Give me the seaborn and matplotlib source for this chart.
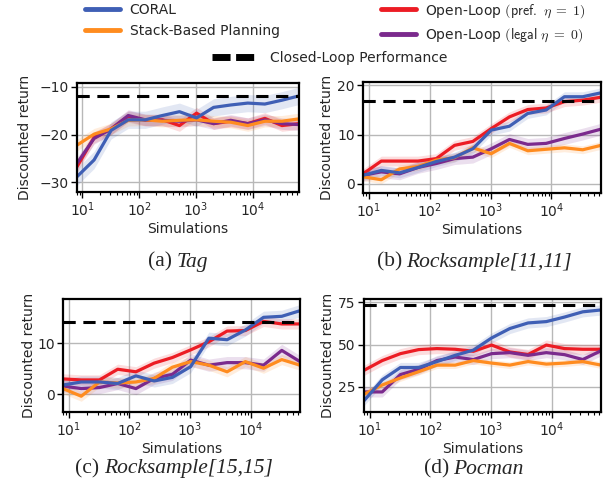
import numpy as np
import pandas as pd
import matplotlib
matplotlib.use("Agg")
import matplotlib.pyplot as plt
from matplotlib.lines import Line2D
import seaborn as sns

# simulation budgets (powers of two)
sims = [8, 16, 32, 64, 128, 256, 512, 1024, 2048, 4096, 8192, 16384, 32768, 65536]

methods = ["Open-Loop (pref.)", "Open-Loop (legal)", "Stack-Based Planning", "CORAL"]

# (a) Tag
tag_coral = [-28.8, -25.3, -19.1, -16.9, -16.9, -16.0, -15.2, -16.5, -14.3, -13.8, -13.4, -13.6, -12.8, -11.9]
tag_stack = [-22.2, -19.9, -18.8, -17.0, -16.9, -17.2, -17.0, -16.9, -17.2, -17.4, -18.1, -17.2, -17.2, -16.7]
tag_pref = [-26.7, -20.6, -18.8, -16.2, -17.0, -16.9, -18.1, -15.5, -17.7, -17.2, -17.7, -16.6, -18.1, -17.7]
tag_legal = [-26.0, -20.8, -18.8, -16.0, -16.9, -17.0, -17.2, -16.9, -17.7, -17.0, -17.7, -16.9, -17.7, -17.9]
tag_closed = -12.0
tag_band = [1.2, 1.2, 1.2, 1.8]

# (b) Rocksample[11,11]
rs11_coral = [1.7, 2.7, 2.2, 3.3, 4.5, 5.4, 7.1, 10.9, 11.7, 14.3, 15.0, 17.7, 17.7, 18.5]
rs11_stack = [1.4, 0.8, 3.0, 3.5, 4.8, 5.3, 7.3, 6.1, 8.2, 6.7, 7.0, 7.3, 6.9, 7.8]
rs11_pref = [2.0, 4.6, 4.6, 4.6, 5.1, 7.8, 8.6, 11.2, 13.6, 15.1, 15.4, 16.7, 17.0, 17.6]
rs11_legal = [1.7, 2.4, 2.0, 3.3, 4.1, 5.1, 5.4, 7.1, 9.0, 8.0, 8.2, 9.2, 10.1, 11.1]
rs11_closed = 16.9
rs11_band = [1.0, 1.2, 0.8, 1.0]

# (c) Rocksample[15,15]
rs15_coral = [1.8, 2.4, 2.4, 2.1, 3.6, 2.6, 3.3, 5.4, 11.0, 10.7, 12.6, 15.1, 15.3, 16.4]
rs15_stack = [1.1, -0.4, 2.4, 2.2, 2.4, 3.1, 5.3, 6.4, 5.7, 4.4, 6.4, 5.1, 6.8, 5.7]
rs15_pref = [3.0, 2.8, 2.8, 4.9, 4.4, 6.1, 7.2, 8.7, 10.3, 12.4, 12.5, 14.3, 13.8, 13.8]
rs15_legal = [1.6, 1.1, 1.3, 2.1, 1.1, 3.1, 3.9, 6.7, 5.7, 6.2, 6.2, 5.7, 8.6, 6.4]
rs15_closed = 14.1
rs15_band = [1.0, 1.2, 1.0, 1.2]

# (d) Pocman
poc_coral = [16.7, 29.1, 36.4, 36.4, 39.9, 43.6, 46.7, 53.9, 59.5, 62.8, 63.6, 66.3, 69.4, 70.5]
poc_stack = [20.5, 26.0, 30.2, 33.9, 37.8, 37.8, 40.5, 39.0, 37.8, 39.9, 38.4, 39.0, 39.9, 37.8]
poc_pref = [34.7, 40.5, 44.6, 47.0, 47.6, 47.2, 46.0, 49.7, 45.6, 44.1, 49.7, 47.6, 47.2, 47.2]
poc_legal = [21.9, 21.9, 32.2, 35.3, 40.5, 42.6, 41.1, 44.6, 45.2, 43.6, 45.2, 44.0, 41.1, 46.3]
poc_closed = 73.5
poc_band = [3.0, 3.0, 2.0, 3.0]

palette = {
    "CORAL": "#3f5fb5",
    "Stack-Based Planning": "#ff8c1f",
    "Open-Loop (pref.)": "#ec1c24",
    "Open-Loop (legal)": "#7b2a8d",
}

panels = [
    dict(pre="(a)", name="Tag", series=[tag_pref, tag_legal, tag_stack, tag_coral],
         closed=tag_closed, band=tag_band, ylim=(-32, -9.2), yticks=[-30, -20, -10],
         rect=[77, 83, 299, 192], capxy=(178, 262), ylpad=5),
    dict(pre="(b)", name="Rocksample[11,11]", series=[rs11_pref, rs11_legal, rs11_stack, rs11_coral],
         closed=rs11_closed, band=rs11_band, ylim=(-1.9, 20.7), yticks=[0, 10, 20],
         rect=[363, 82, 601, 193], capxy=(474, 262), ylpad=2),
    dict(pre="(c)", name="Rocksample[15,15]", series=[rs15_pref, rs15_legal, rs15_stack, rs15_coral],
         closed=rs15_closed, band=rs15_band, ylim=(-3.5, 18.7), yticks=[0, 10],
         rect=[63, 299, 300, 412], capxy=(174, 469), ylpad=1),
    dict(pre="(d)", name="Pocman", series=[poc_pref, poc_legal, poc_stack, poc_coral],
         closed=poc_closed, band=poc_band, ylim=(10, 77), yticks=[25, 50, 75],
         rect=[364, 299, 601, 412], capxy=(474, 469), ylpad=2),
]

sns.set_theme(style="ticks")
plt.rcParams["font.family"] = ["DejaVu Sans"]
plt.rcParams["mathtext.fontset"] = "cm"

W, H = 611, 491
fig = plt.figure(figsize=(W / 100, H / 100), dpi=100)

captions = []
for p in panels:
    x0, y0, x1, y1 = p["rect"]
    ax = fig.add_axes([x0 / W, 1 - y1 / H, (x1 - x0) / W, (y1 - y0) / H])
    rows = []
    for m, vals in zip(methods, p["series"]):
        for s, v in zip(sims, vals):
            rows.append({"sims": s, "value": v, "method": m})
    df = pd.DataFrame(rows)
    for m, vals, b in zip(methods, p["series"], p["band"]):
        v = np.array(vals)
        ax.fill_between(sims, v - b, v + b, color=palette[m], alpha=0.15, lw=0)
    sns.lineplot(data=df, x="sims", y="value", hue="method", hue_order=methods,
                 palette=palette, lw=2.3, legend=False, ax=ax)
    ax.axhline(p["closed"], color="black", ls=(0, (4, 2.5)), lw=2.2, zorder=5)
    ax.set_xscale("log")
    ax.set_xlim(8, 65536)
    ax.set_xticks([10, 100, 1000, 10000])
    ax.set_ylim(*p["ylim"])
    ax.set_yticks(p["yticks"])
    ax.grid(True, which="major", color="#b8b8b8", lw=1.0)
    ax.set_axisbelow(True)
    for sp in ax.spines.values():
        sp.set_color("black")
        sp.set_linewidth(1.6)
    ax.tick_params(axis="both", which="major", labelsize=10, length=4, width=1, color="black", pad=2)
    ax.tick_params(axis="x", which="minor", length=2.5, width=0.8, color="black")
    ax.set_xlabel("Simulations", fontsize=10, labelpad=2)
    ax.set_ylabel("Discounted return", fontsize=10, labelpad=p["ylpad"])
    # caption: upright prefix + italic name, centred as a pair
    t1 = fig.text(0, 1 - p["capxy"][1] / H, p["pre"], ha="left", va="center",
                  fontsize=15.5, family="Liberation Serif")
    t2 = fig.text(0, 1 - p["capxy"][1] / H, p["name"], ha="left", va="center",
                  fontsize=15.5, family="Liberation Serif", style="italic")
    captions.append((t1, t2, p["capxy"][0]))

handles = [
    Line2D([], [], color=palette["CORAL"], lw=3.5),
    Line2D([], [], color=palette["Stack-Based Planning"], lw=3.5),
    Line2D([], [], color=palette["Open-Loop (pref.)"], lw=3.5),
    Line2D([], [], color=palette["Open-Loop (legal)"], lw=3.5),
]
labels = ["CORAL", "Stack-Based Planning",
          r"Open-Loop $(\mathsf{pref.}\ \eta\;=\;1)$", r"Open-Loop $(\mathsf{legal}\ \eta\;=\;0)$"]
fig.legend(handles, labels, ncol=2, loc="center", bbox_to_anchor=(0.549, 1 - 23 / H),
           frameon=False, fontsize=10, handlelength=2.5, handletextpad=0.7,
           columnspacing=7.3, labelspacing=0.5, borderpad=0)
closed_h = Line2D([], [], color="black", lw=5, ls=(0, (2.6, 0.8)))
fig.legend([closed_h], ["Closed-Loop Performance"], loc="center", bbox_to_anchor=(0.54, 1 - 58 / H),
           frameon=False, fontsize=10, handlelength=3.3, handletextpad=0.9, borderpad=0)

# place caption pieces now that their sizes are known
fig.canvas.draw()
r = fig.canvas.get_renderer()
gap = 4
for t1, t2, cx in captions:
    w1 = t1.get_window_extent(r).width
    w2 = t2.get_window_extent(r).width
    left = cx - (w1 + gap + w2) / 2
    t1.set_x(left / W)
    t2.set_x((left + w1 + gap) / W)

fig.savefig("out.png", dpi=100)
